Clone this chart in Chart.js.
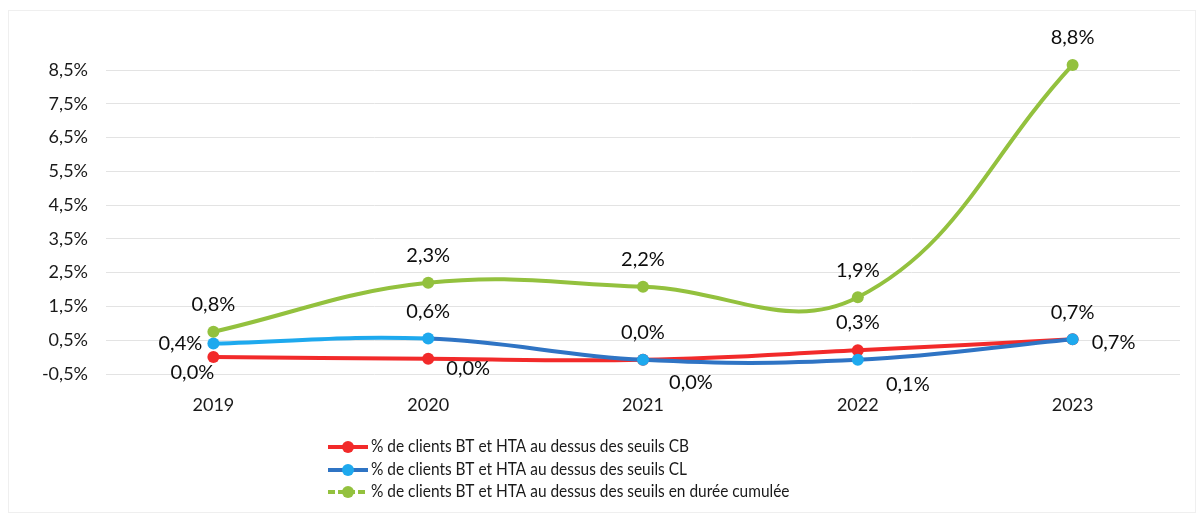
<!DOCTYPE html>
<html>
<head>
<meta charset="utf-8">
<script src="https://cdn.jsdelivr.net/npm/chart.js@4/dist/chart.umd.min.js"></script>
<style>
  html, body { margin: 0; padding: 0; background: #ffffff; }
  #wrap { position: relative; width: 1202px; height: 515px; }
  #frame { position: absolute; left: 8px; top: 10px; width: 1188px; height: 503px; border: 1px solid #efefef; box-sizing: border-box; pointer-events: none; }
</style>
</head>
<body>
<div id="wrap">
  <canvas id="c" width="1202" height="515"></canvas>
  <div id="frame"></div>
</div>
<script>
// ---- data ----
const years = ['2019', '2020', '2021', '2022', '2023'];
const seriesNames = [
  '% de clients BT et HTA au dessus des seuils CB',
  '% de clients BT et HTA au dessus des seuils CL',
  '% de clients BT et HTA au dessus des seuils en durée cumulée'
];
const cbValues    = [0.0, -0.05, -0.08, 0.2, 0.53];
const clValues    = [0.4, 0.55, -0.08, -0.08, 0.53];
const cumulValues = [0.75, 2.2, 2.08, 1.77, 8.65];
const cbLabels    = ['0,0%', '0,0%', '0,0%', '0,3%', '0,7%'];
const clLabels    = ['0,4%', '0,6%', '0,0%', '0,1%', '0,7%'];
const cumulLabels = ['0,8%', '2,3%', '2,2%', '1,9%', '8,8%'];
const yTickValues = [-0.5, 0.5, 1.5, 2.5, 3.5, 4.5, 5.5, 6.5, 7.5, 8.5];

// ---- styling (kept apart from data) ----
const FONT = 'Lato, "Open Sans", sans-serif';
const RED = '#f22a2a';
const BLUE_LINE = '#2f74c4';
const CYAN = '#1ea9ee';
const GREEN = '#93c13e';
const labelOffsets = [
  [[-21, 15], [40, 10], [48, 23], [0, -28], [0, -27]],
  [[-33, 0], [0, -27], [0, -27], [50, 25], [41, 3]],
  [[0, -27], [0, -27], [0, -27], [0, -27], [0, -27]]
];
const labelTexts = [cbLabels, clLabels, cumulLabels];

const fmt = v => v.toFixed(1).replace('.', ',') + '%';

const dataLabelPlugin = {
  id: 'dataLabelPlugin',
  afterDatasetsDraw(chart) {
    const ctx = chart.ctx;
    ctx.save();
    ctx.font = '20px ' + FONT;
    ctx.fillStyle = '#0d0d0d';
    ctx.textAlign = 'center';
    ctx.textBaseline = 'middle';
    chart.data.datasets.forEach((ds, di) => {
      const meta = chart.getDatasetMeta(di);
      meta.data.forEach((pt, i) => {
        const off = labelOffsets[di][i];
        ctx.fillText(labelTexts[di][i], pt.x + off[0], pt.y + off[1]);
      });
    });
    ctx.restore();
  }
};

const legendPlugin = {
  id: 'customLegend',
  afterDraw(chart) {
    const ctx = chart.ctx;
    ctx.save();
    const rowsY = [447, 470, 492];
    const x0 = 328, x1 = 368, mx = 348, tx = 371;
    ctx.font = '17px ' + FONT;
    const ref = ctx.measureText(seriesNames[0]).width;
    const factor = Math.min(1, 318 / ref);
    chart.data.datasets.forEach((ds, i) => {
      const y = rowsY[i];
      ctx.strokeStyle = ds.legendLine;
      ctx.lineWidth = 4;
      ctx.setLineDash(i === 2 ? [7, 3] : []);
      ctx.beginPath(); ctx.moveTo(x0, y); ctx.lineTo(x1, y); ctx.stroke();
      ctx.setLineDash([]);
      ctx.fillStyle = ds.pointBackgroundColor;
      ctx.beginPath(); ctx.arc(mx, y, 6, 0, Math.PI * 2); ctx.fill();
      ctx.fillStyle = '#1a1a1a';
      ctx.textAlign = 'left';
      ctx.textBaseline = 'middle';
      const w = ctx.measureText(seriesNames[i]).width;
      ctx.fillText(seriesNames[i], tx, y, w * factor);
    });
    ctx.restore();
  }
};

new Chart(document.getElementById('c'), {
  type: 'line',
  data: {
    labels: years,
    datasets: [
      {
        label: seriesNames[0], data: cbValues,
        borderColor: RED, backgroundColor: RED, pointBackgroundColor: RED, pointBorderColor: RED,
        legendLine: RED, order: 2
      },
      {
        label: seriesNames[1], data: clValues,
        borderColor: BLUE_LINE, backgroundColor: CYAN, pointBackgroundColor: CYAN, pointBorderColor: CYAN,
        legendLine: BLUE_LINE, order: 1,
        segment: { borderColor: c => c.p0DataIndex === 0 ? CYAN : BLUE_LINE }
      },
      {
        label: seriesNames[2], data: cumulValues,
        borderColor: GREEN, backgroundColor: GREEN, pointBackgroundColor: GREEN, pointBorderColor: GREEN,
        legendLine: GREEN, order: 0
      }
    ]
  },
  options: {
    responsive: false,
    animation: false,
    events: [],
    layout: { padding: { top: 70, right: 22, bottom: 81, left: 0 } },
    elements: {
      line: { borderWidth: 4, tension: 0.4, cubicInterpolationMode: 'default', fill: false },
      point: { radius: 6, borderWidth: 0 }
    },
    datasets: { line: { clip: false } },
    plugins: { legend: { display: false }, tooltip: { enabled: false }, title: { display: false } },
    scales: {
      x: {
        offset: true,
        grid: { display: false, drawTicks: false },
        border: { display: false },
        ticks: { font: { family: FONT, size: 18 }, color: '#1a1a1a', padding: 20 },
        afterFit: s => { s.height = 60; }
      },
      y: {
        min: -0.5, max: 8.5,
        afterBuildTicks: s => { s.ticks = yTickValues.map(v => ({ value: v })); },
        grid: { color: '#e3e3e3', lineWidth: 1, drawTicks: false },
        border: { display: false },
        ticks: { font: { family: FONT, size: 18 }, color: '#1a1a1a', padding: 18, callback: v => fmt(v) },
        afterFit: s => { s.width = 106; }
      }
    }
  },
  plugins: [dataLabelPlugin, legendPlugin]
});
</script>
</body>
</html>
